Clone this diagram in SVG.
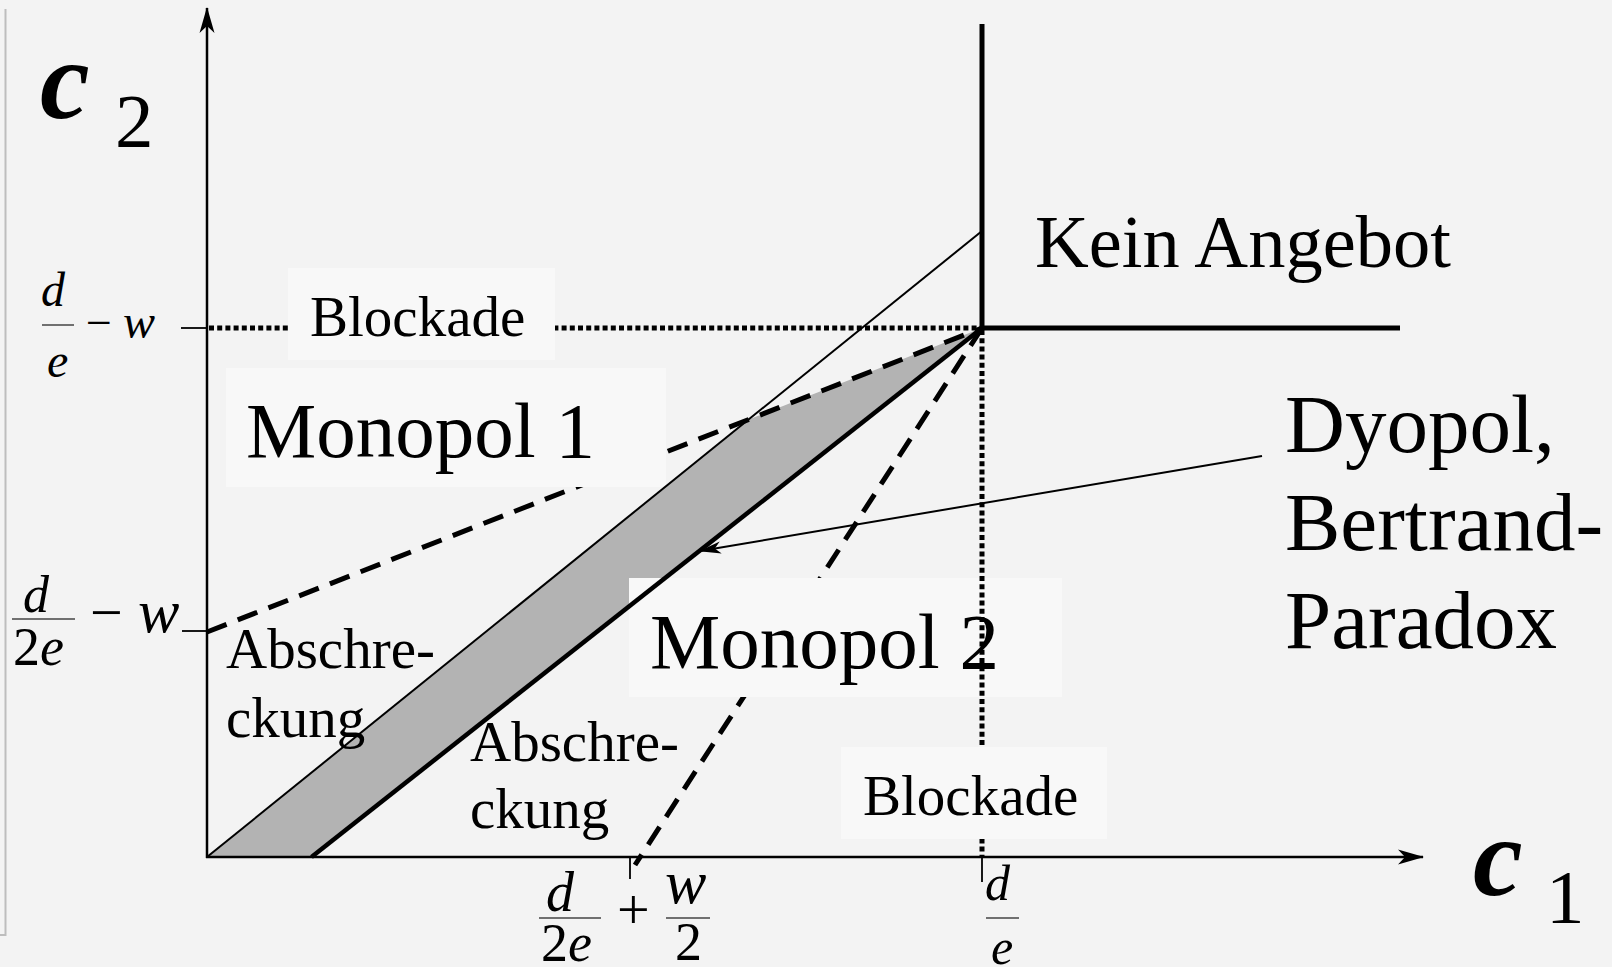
<svg xmlns="http://www.w3.org/2000/svg" width="1612" height="970" viewBox="0 0 1612 970">
  <style>
    text { font-family: "Liberation Serif", "Times New Roman", serif; fill: #000; }
    .lbl { font-size: 57px; }
    .big { font-size: 79px; }
    .it { font-style: italic; }
    .cc { font-style: italic; font-weight: bold; font-size: 112px; }
    .box { fill: #f8f8f8; stroke: none; }
    .dash { fill: none; stroke: #000; stroke-width: 5; stroke-dasharray: 21 12; }
    .dot { fill: none; stroke: #000; stroke-width: 5; stroke-dasharray: 5 3.2; }
    .axis { fill: none; stroke: #000; stroke-width: 2.5; }
    .tick { fill: none; stroke: #000; stroke-width: 1.8; }
    .bar { fill: none; stroke: #444; stroke-width: 1.5; }
  </style>
  <defs>
    <marker id="axarr" viewBox="0 0 26 16" refX="25" refY="8" markerWidth="26" markerHeight="16" orient="auto" markerUnits="userSpaceOnUse">
      <path d="M0,0.5 L26,8 L0,15.5 L7,8 Z" fill="#000"/>
    </marker>
    <marker id="ptr" viewBox="0 0 22 14" refX="21" refY="7" markerWidth="22" markerHeight="14" orient="auto" markerUnits="userSpaceOnUse">
      <path d="M0,1 L22,7 L0,13 L6,7 Z" fill="#000"/>
    </marker>
  </defs>

  <rect x="0" y="0" width="1612" height="970" fill="#f3f3f3"/>
  <rect x="0" y="967" width="1612" height="3" fill="#ffffff"/>
  <path d="M0,935 H5.5 V9" fill="none" stroke="#bdbdbd" stroke-width="2"/>

  <g id="region-dyopol">
    <polygon points="207,857 311.5,857 982,328 748.7,419.5" fill="#b3b3b3"/>
  </g>

  <g id="connectors">
    <line class="dash" x1="207" y1="632" x2="982" y2="328"/>
    <line class="dash" x1="982" y1="328" x2="635" y2="865"/>
    <line class="dot" x1="209" y1="328" x2="980" y2="328"/>
  </g>

  <g id="boxes">
    <rect class="box" x="288" y="268" width="267" height="92"/>
    <rect class="box" x="226" y="368" width="440" height="119"/>
    <rect class="box" x="629" y="578" width="433" height="119"/>
  </g>

  <g id="connectors-2">
    <line class="dot" x1="982" y1="330" x2="982" y2="857"/>
  </g>
  <rect class="box" x="841" y="747" width="266" height="92"/>

  <g id="boundaries">
    <line x1="207" y1="857" x2="982" y2="231" stroke="#000" stroke-width="2"/>
    <line x1="311.5" y1="857" x2="982" y2="328" stroke="#000" stroke-width="4.5"/>
    <line x1="982" y1="24" x2="982" y2="328" stroke="#000" stroke-width="5"/>
    <line x1="980" y1="328" x2="1400" y2="328" stroke="#000" stroke-width="5"/>
  </g>

  <g id="axes">
    <line class="axis" x1="207" y1="858" x2="207" y2="8" marker-end="url(#axarr)"/>
    <line class="axis" x1="206" y1="857" x2="1423" y2="857" marker-end="url(#axarr)"/>
    <line class="tick" x1="181" y1="328" x2="207" y2="328"/>
    <line class="tick" x1="182" y1="631" x2="207" y2="631"/>
    <line class="tick" x1="630" y1="857" x2="630" y2="879"/>
    <line class="tick" x1="982" y1="857" x2="982" y2="882"/>
  </g>

  <g id="pointer">
    <line x1="1262" y1="456" x2="700" y2="551" stroke="#000" stroke-width="2" marker-end="url(#ptr)"/>
  </g>

  <g id="axis-labels">
    <text class="cc" x="40" y="118">c</text>
    <text x="115" y="147" font-size="77">2</text>
    <text class="cc" x="1473" y="895">c</text>
    <text x="1546" y="923" font-size="77">1</text>
  </g>

  <g id="tick-label-top">
    <text class="it" x="41" y="306" font-size="48">d</text>
    <line class="bar" x1="42" y1="325" x2="74" y2="325"/>
    <text class="it" x="47" y="377" font-size="48">e</text>
    <text x="86" y="338" font-size="46">−</text>
    <text class="it" x="123" y="338" font-size="48">w</text>
  </g>

  <g id="tick-label-mid">
    <text class="it" x="23" y="612" font-size="52">d</text>
    <line class="bar" x1="12" y1="619" x2="75" y2="619"/>
    <text x="13" y="665" font-size="54">2<tspan font-style="italic">e</tspan></text>
    <text x="90" y="632" font-size="58">−</text>
    <text class="it" x="138" y="632" font-size="62">w</text>
  </g>

  <g id="tick-label-bottom">
    <text class="it" x="546" y="911" font-size="56">d</text>
    <line class="bar" x1="539" y1="918" x2="601" y2="918"/>
    <text x="541" y="961" font-size="54">2<tspan font-style="italic">e</tspan></text>
    <text x="617" y="929" font-size="58">+</text>
    <text class="it" x="665" y="903" font-size="62">w</text>
    <line class="bar" x1="666" y1="918" x2="710" y2="918"/>
    <text x="675" y="960" font-size="54">2</text>
  </g>

  <g id="tick-label-de">
    <text class="it" x="985" y="900" font-size="50">d</text>
    <line class="bar" x1="986" y1="918" x2="1019" y2="918"/>
    <text class="it" x="991" y="964" font-size="50">e</text>
  </g>

  <g id="label-blockade-top"><text class="lbl" x="310" y="336">Blockade</text></g>
  <g id="label-monopol1"><text class="big" x="246" y="457">Monopol 1</text></g>
  <g id="label-monopol2"><text class="big" x="650" y="668">Monopol 2</text></g>
  <g id="label-kein"><text x="1035" y="267" font-size="74.5">Kein Angebot</text></g>
  <g id="label-dyopol">
    <text x="1285" y="452" font-size="83">Dyopol,</text>
    <text x="1285" y="550" font-size="83">Bertrand-</text>
    <text x="1285" y="648" font-size="83">Paradox</text>
  </g>
  <g id="label-abschreckung1">
    <text class="lbl" x="226" y="668">Abschre-</text>
    <text class="lbl" x="226" y="737">ckung</text>
  </g>
  <g id="label-abschreckung2">
    <text class="lbl" x="470" y="761">Abschre-</text>
    <text class="lbl" x="470" y="828">ckung</text>
  </g>
  <g id="label-blockade-bottom"><text class="lbl" x="863" y="815">Blockade</text></g>
</svg>
